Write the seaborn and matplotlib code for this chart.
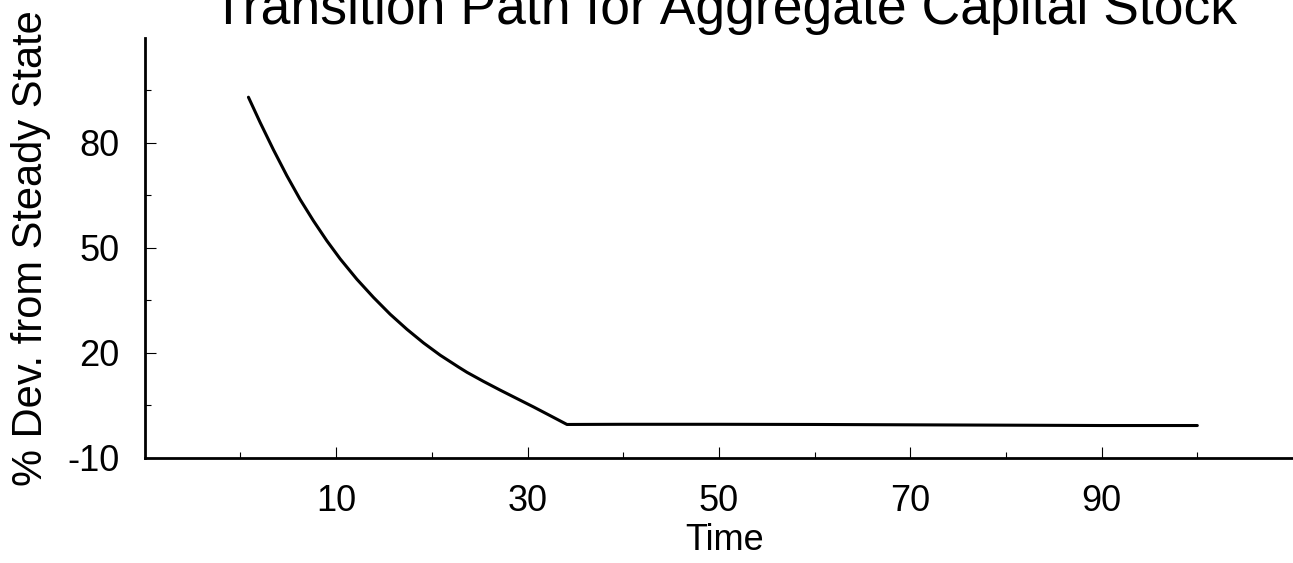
import matplotlib
matplotlib.use("Agg")
import matplotlib.pyplot as plt
import seaborn as sns
import pandas as pd
from matplotlib.ticker import FixedLocator

# Data
time = [0.83, 2.05, 3.44, 4.84, 6.23, 7.62, 9.02, 10.42, 12.16, 13.90, 15.64,
        17.39, 19.13, 20.87, 22.79, 23.67, 25.40, 27.15, 28.89, 30.63, 32.38,
        34.12, 40, 50, 60, 70, 80, 90, 100]
dev = [93.0, 85.8, 78.0, 70.6, 63.8, 57.7, 52.0, 46.8, 41.0, 35.8, 31.0,
       26.7, 22.8, 19.3, 15.9, 14.4, 11.8, 9.3, 6.9, 4.5, 2.0,
       -0.5, -0.45, -0.45, -0.5, -0.6, -0.7, -0.8, -0.8]
x_major = [10, 30, 50, 70, 90]
x_minor = [0, 20, 40, 60, 80, 100]
y_major = [-10, 20, 50, 80]
y_minor = [5, 35, 65, 95]

title = "Transition Path for Aggregate Capital Stock"
xlabel = "Time"
ylabel = "% Dev. from Steady State"

df = pd.DataFrame({"Time": time, "Dev": dev})

sns.set_style("ticks")
plt.rcParams["font.family"] = ["Liberation Sans", "DejaVu Sans"]

fig = plt.figure(figsize=(12.93, 5.63), dpi=100)
ax = fig.add_axes([0.112, 0.187, 0.888, 0.746])

sns.lineplot(data=df, x="Time", y="Dev", color="black", linewidth=2.2, ax=ax)

ax.set_xlim(-10, 110)
ax.set_ylim(-10, 110)
ax.xaxis.set_major_locator(FixedLocator(x_major))
ax.xaxis.set_minor_locator(FixedLocator(x_minor))
ax.yaxis.set_major_locator(FixedLocator(y_major))
ax.yaxis.set_minor_locator(FixedLocator(y_minor))
ax.set_xticklabels([str(v) for v in x_major])
ax.set_yticklabels([str(v) for v in y_major])

ax.tick_params(axis="both", which="major", direction="in", length=8, width=0.8,
               labelsize=26, color="black", labelcolor="black")
ax.tick_params(axis="x", which="major", pad=19)
ax.tick_params(axis="y", which="major", pad=18)
ax.tick_params(axis="both", which="minor", direction="in", length=4, width=0.8,
               color="black")

for side in ["top", "right"]:
    ax.spines[side].set_visible(False)
for side in ["left", "bottom"]:
    ax.spines[side].set_linewidth(2.0)
    ax.spines[side].set_color("black")

ax.set_xlabel(xlabel, fontsize=26, color="black")
ax.set_ylabel(ylabel, fontsize=30, color="black")
ax.xaxis.set_label_coords(0.505, -0.156)
ax.yaxis.set_label_coords(-0.082, 0.5)
ax.set_title(title, fontsize=38.5, pad=10, x=0.505, color="black")

fig.savefig("out.png", dpi=100)
